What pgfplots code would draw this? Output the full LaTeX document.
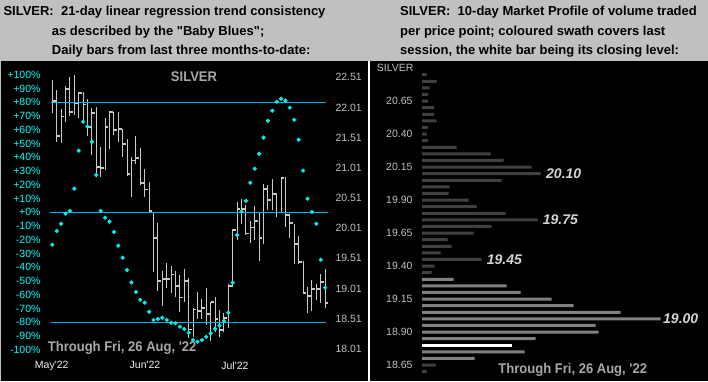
\documentclass[border=0pt]{standalone}
\usepackage{pgfplots}
\pgfplotsset{compat=1.18}
\usepackage{pgfplotstable}
\usepackage{fontspec}
\setmainfont{Liberation Sans}
\definecolor{bg}{HTML}{C0C0C0}
\definecolor{barg}{HTML}{C8C8C8}
\definecolor{dotc}{HTML}{00F0F0}
\definecolor{linec}{HTML}{00B4F0}
\definecolor{lblc}{HTML}{00FFFF}
\definecolor{pricec}{HTML}{C0C0C0}
\definecolor{txtg}{HTML}{A8A8A8}
\definecolor{labc}{HTML}{D4D4D4}
\definecolor{darkbar}{HTML}{404040}
\definecolor{swath}{HTML}{808080}
\newcommand\tf{\fontsize{10.5}{12}\selectfont}
\newcommand\ttl{\bfseries\fontsize{13}{15}\selectfont}
\pgfdeclareplotmark{closetick}{\pgfpathmoveto{\pgfpoint{0pt}{0pt}}\pgfpathlineto{\pgfpoint{3.4pt}{0pt}}\pgfusepathqstroke}

\pgfplotstableread{
k H L C
1 22.47 21.92 22.12
2 22.30 21.44 21.54
3 21.98 21.42 21.86
4 22.37 21.77 22.32
5 22.51 21.87 21.93
6 22.55 21.89 22.08
7 22.27 21.83 22.25
8 22.26 21.80 22.06
9 22.15 21.53 21.69
10 22.00 21.22 21.92
11 22.02 20.92 21.02
12 21.35 20.85 21.00
13 21.83 20.97 21.68
14 21.95 21.32 21.94
15 21.94 21.55 21.63
16 21.94 21.43 21.65
17 21.65 21.19 21.40
18 21.49 20.88 20.91
19 21.19 20.53 21.13
20 21.53 21.08 21.17
21 21.34 20.72 20.76
22 20.99 20.53 20.65
23 20.77 20.26 20.29
24 20.27 19.29 19.85
25 20.09 18.97 19.13
26 19.30 18.71 19.16
27 19.43 19.01 19.16
28 19.38 18.94 19.24
29 19.30 18.87 19.05
30 19.23 18.62 18.86
31 19.34 18.79 19.13
32 19.18 18.18 18.33
33 18.68 18.21 18.66
34 18.95 18.50 18.64
35 18.83 18.50 18.69
36 19.01 18.40 18.58
37 18.79 18.13 18.78
38 18.87 18.28 18.50
39 18.66 18.21 18.32
40 18.60 18.29 18.52
41 19.08 18.35 19.05
42 19.99 19.04 19.98
43 20.44 19.81 20.32
44 20.49 20.07 20.32
45 20.39 19.90 19.92
46 20.12 19.76 20.02
47 20.38 19.81 20.13
48 20.27 19.47 19.85
49 20.74 19.74 20.66
50 20.72 20.31 20.48
51 20.82 20.31 20.57
52 20.59 20.20 20.27
53 20.84 20.28 20.84
54 20.85 20.02 20.23
55 20.25 19.85 20.10
56 20.07 19.41 19.74
57 19.88 19.41 19.45
58 19.46 18.93 18.94
59 19.04 18.61 18.88
60 19.15 18.64 19.00
61 19.09 18.81 19.00
62 19.25 18.76 19.12
63 19.33 18.68 18.77
}\bars

\pgfplotstableread{
k P
1 -23.6
2 -13.6
3 -8.3
4 -1
5 1
6 17.2
7 44.8
8 65.9
9 62.3
10 51.3
11 27.1
12 1
13 -3.9
14 -6.8
15 -14.3
16 -24.3
17 -33.0
18 -42
19 -51
20 -58
21 -63.6
22 -65.7
23 -72.3
24 -78.3
25 -77.6
26 -76.7
27 -78.3
28 -80.3
29 -80.7
30 -83.2
31 -84.9
32 -87.6
33 -92.9
34 -94.1
35 -92.9
36 -90.5
37 -88
38 -84.7
39 -82.5
40 -79.1
41 -73
42 -51.2
43 -16.5
44 0.4
45 8.4
46 21.5
47 31.7
48 42.6
49 54.3
50 66.6
51 73.9
52 80.4
53 82.6
54 81.2
55 76.1
56 67.3
57 52.8
58 30.3
59 9.9
60 0.2
61 -8.3
62 -34.5
63 -54.8
}\blues

\pgfplotstableread{
P V
20.85 4.7
20.80 14.7
20.75 7.7
20.70 6
20.65 6
20.60 12
20.55 12
20.50 14.7
20.45 6
20.40 4.7
20.35 6
20.30 34.7
20.25 68.7
20.20 81.7
20.15 109.7
20.10 118.7
20.05 79.7
20.00 27.7
19.95 26.7
19.90 46.7
19.85 54.7
19.80 83.7
19.75 115.7
19.70 69.7
19.65 51.7
19.60 25.7
19.55 29.7
19.50 18.7
19.45 59.7
19.40 12.7
19.35 9.7
18.65 13.7
18.60 4.7
}\profdark

\pgfplotstableread{
P V
19.30 31.7
19.25 84.7
19.20 98.7
19.15 129.7
19.10 151.7
19.05 198.7
19.00 238.7
18.95 173.7
18.90 176.7
18.85 113.7
18.75 102.7
18.70 52.7
}\profswath

\pgfplotstableread{
P V
18.80 89.7
}\profwhite

\begin{document}
\begin{tikzpicture}
\useasboundingbox (0,0) rectangle (708pt,381pt);
\fill[bg] (0,0) rectangle (708pt,381pt);
\fill[black] (1pt,0pt) rectangle (368pt,320pt);
\fill[white] (368pt,0pt) rectangle (370pt,320pt);
\fill[black] (370pt,0pt) rectangle (708pt,320pt);

% titles
\node[anchor=base west, inner sep=0pt, font=\ttl] at (3.3pt,365.3pt) {SILVER:\ \ 21-day linear regression trend consistency};
\node[anchor=base west, inner sep=0pt, font=\ttl] at (51.7pt,345.3pt) {as described by the \textquotedbl Baby Blues\textquotedbl;};
\node[anchor=base west, inner sep=0pt, font=\ttl] at (51.7pt,326pt) {Daily bars from last three months-to-date:};
\node[anchor=base west, inner sep=0pt, font=\ttl] at (400pt,365.3pt) {SILVER:\ \ 10-day Market Profile of volume traded};
\node[anchor=base west, inner sep=0pt, font=\ttl] at (400pt,345.3pt) {per price point; coloured swath covers last};
\node[anchor=base west, inner sep=0pt, font=\ttl] at (400pt,326pt) {session, the white bar being its closing level:};

% left panel: price bars
\begin{axis}[
  at={(44pt,23pt)}, anchor=south west, scale only axis, width=288pt, height=296pt,
  xmin=-0.886, xmax=64.57, ymin=17.856, ymax=22.764,
  axis line style={draw=none}, major tick length=0pt, tick style={draw=none},
  xtick=\empty,
  ytick={18.01,18.51,19.01,19.51,20.01,20.51,21.01,21.51,22.01,22.51},
  yticklabels={18.01,18.51,19.01,19.51,20.01,20.51,21.01,21.51,22.01,22.51},
  yticklabel pos=right,
  yticklabel style={font=\tf, text=pricec},
]
\addplot [only marks, mark=closetick, barg, mark options={line width=1.8pt, solid},
  error bars/.cd, y dir=both, y explicit, error mark=none, error bar style={line width=1pt}]
  table [x=k, y=C, y error plus expr=\thisrow{H}-\thisrow{C}, y error minus expr=\thisrow{C}-\thisrow{L}] {\bars};
\end{axis}

% left panel: baby blues
\begin{axis}[
  at={(44pt,23pt)}, anchor=south west, scale only axis, width=288pt, height=296pt,
  xmin=-0.886, xmax=64.57, ymin=-105.96, ymax=109.31,
  axis line style={draw=none}, major tick length=0pt, tick style={draw=none},
  xtick={0.86,22.07,42.5},
  xticklabels={May\textquotesingle 22,Jun\textquotesingle 22,Jul\textquotesingle 22},
  xticklabel style={font=\tf, text=white!94!black},
  ytick={-100,-90,...,100},
  yticklabels={-100\%,-90\%,-80\%,-70\%,-60\%,-50\%,-40\%,-30\%,-20\%,-10\%,+0\%,+10\%,+20\%,+30\%,+40\%,+50\%,+60\%,+70\%,+80\%,+90\%,+100\%},
  yticklabel style={font=\tf, text=lblc},
]
\addplot [linec, line width=1.1pt] coordinates {(0.7,80) (63.3,80)};
\addplot [linec, line width=1.1pt] coordinates {(0.5,0) (63.6,0)};
\addplot [linec, line width=1.1pt] coordinates {(0.7,-80) (63.3,-80)};
\addplot [only marks, mark=*, mark size=1.9pt, dotc] table [x=k, y=P] {\blues};
\end{axis}

\node[anchor=base, inner sep=0pt, font=\bfseries\fontsize{14}{14}\selectfont, text=txtg, xscale=0.93] at (194pt,299.3pt) {SILVER};
\node[anchor=base west, inner sep=0pt, font=\bfseries\fontsize{14}{14}\selectfont, text=txtg, xscale=0.93] at (47.7pt,29.3pt) {Through Fri, 26 Aug, \textquotesingle 22};

% right panel: market profile
\begin{axis}[
  at={(416pt,0pt)}, anchor=south west, scale only axis, width=292pt, height=319pt,
  xmin=-6, xmax=286, ymin=18.5295, ymax=20.946,
  axis line style={draw=none}, major tick length=0pt, tick style={draw=none},
  xtick=\empty,
  ytick={18.65,18.90,19.15,19.40,19.65,19.90,20.15,20.40,20.65},
  yticklabels={18.65,18.90,19.15,19.40,19.65,19.90,20.15,20.40,20.65},
  yticklabel style={font=\tf, text=pricec},
  clip=false,
]
\addplot [xbar, bar width=3pt, bar shift=0pt, fill=darkbar, draw=none] table [x=V, y=P] {\profdark};
\addplot [xbar, bar width=3pt, bar shift=0pt, fill=swath, draw=none] table [x=V, y=P] {\profswath};
\addplot [xbar, bar width=3.3pt, bar shift=0pt, fill=white, draw=none] table [x=V, y=P] {\profwhite};
\node[anchor=west, inner sep=0pt, font=\bfseries\itshape\fontsize{14}{14}\selectfont, text=labc] at (axis cs:124,20.10) {20.10};
\node[anchor=west, inner sep=0pt, font=\bfseries\itshape\fontsize{14}{14}\selectfont, text=labc] at (axis cs:120.7,19.75) {19.75};
\node[anchor=west, inner sep=0pt, font=\bfseries\itshape\fontsize{14}{14}\selectfont, text=labc] at (axis cs:64.7,19.45) {19.45};
\node[anchor=west, inner sep=0pt, font=\bfseries\itshape\fontsize{14}{14}\selectfont, text=labc] at (axis cs:241,19.00) {19.00};
\end{axis}

\node[anchor=base west, inner sep=0pt, font=\tf, text=pricec] at (376.7pt,309.3pt) {SILVER};
\node[anchor=base west, inner sep=0pt, font=\bfseries\fontsize{14}{14}\selectfont, text=txtg, xscale=0.93] at (498.3pt,7.7pt) {Through Fri, 26 Aug, \textquotesingle 22};
\end{tikzpicture}
\end{document}
